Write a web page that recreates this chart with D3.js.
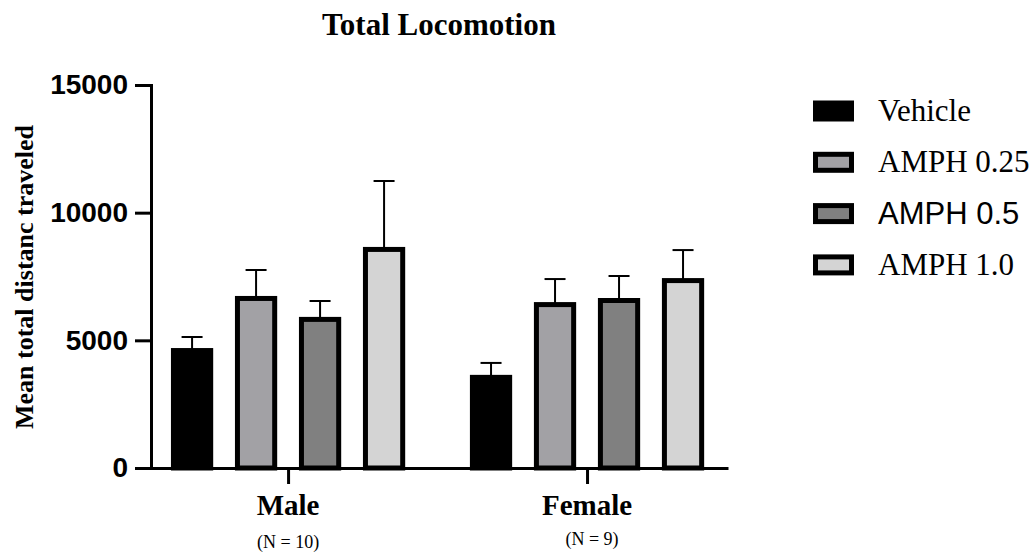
<!DOCTYPE html>
<html>
<head>
<meta charset="utf-8">
<script src="https://cdn.jsdelivr.net/npm/d3@7"></script>
<style>
  html, body { margin: 0; padding: 0; background: #fff; }
  svg { display: block; }
</style>
</head>
<body>
<svg id="chart" width="1034" height="555"></svg>
<script>
// Groups (sex) and treatment series
const groups = ["Male", "Female"];
const groupN = ["(N = 10)", "(N = 9)"];
const series = ["Vehicle", "AMPH 0.25", "AMPH 0.5", "AMPH 1.0"];
const seriesColors = ["#000000", "#a2a1a5", "#808080", "#d4d4d4"];
const seriesFonts = ["Liberation Serif", "Liberation Serif", "Liberation Sans", "Liberation Serif"];

// Mean total distance per group, one value per series
const maleMeans = [4600, 6640, 5820, 8560];
const femaleMeans = [3550, 6400, 6560, 7340];
// Upper error (SEM) per group, one value per series
const maleErr = [530, 1115, 720, 2680];
const femaleErr = [565, 1000, 960, 1195];

const yTicks = [0, 5000, 10000, 15000];

const means = [maleMeans, femaleMeans];
const errs = [maleErr, femaleErr];

const svg = d3.select("#chart");

const y = d3.scaleLinear().domain([0, 15000]).range([468, 85]);
const x0 = d3.scalePoint().domain(groups).range([151, 728]).padding(0.465).align(0.493);
const x1 = d3.scaleBand().domain(series).range([-128, 128]).paddingInner(0.34).paddingOuter(0.17);

const barStroke = 5;

// Title
svg.append("text")
  .attr("x", 439).attr("y", 35)
  .attr("text-anchor", "middle")
  .style("font-family", "Liberation Serif")
  .style("font-weight", "bold")
  .style("font-size", "31px")
  .text("Total Locomotion");

// Y axis title
svg.append("text")
  .attr("transform", "translate(33,277) rotate(-90)")
  .attr("text-anchor", "middle")
  .style("font-family", "Liberation Serif")
  .style("font-weight", "bold")
  .style("font-size", "26px")
  .text("Mean total distanc traveled");

// Bars
const gBars = svg.append("g");
groups.forEach((g, gi) => {
  series.forEach((s, si) => {
    const cx = x0(g) + x1(s) + x1.bandwidth() / 2;
    const v = means[gi][si];
    const e = errs[gi][si];
    const bw = x1.bandwidth() - barStroke;
    // error bar (upper only)
    gBars.append("line")
      .attr("x1", cx).attr("x2", cx)
      .attr("y1", y(v)).attr("y2", y(v + e))
      .attr("stroke", "#000").attr("stroke-width", 2);
    gBars.append("line")
      .attr("x1", cx - 10.5).attr("x2", cx + 10.5)
      .attr("y1", y(v + e)).attr("y2", y(v + e))
      .attr("stroke", "#000").attr("stroke-width", 2);
    gBars.append("rect")
      .attr("x", cx - bw / 2)
      .attr("y", y(v))
      .attr("width", bw)
      .attr("height", y(0) - y(v))
      .attr("fill", seriesColors[si])
      .attr("stroke", "#000")
      .attr("stroke-width", barStroke);
  });
});

// Y axis
const yAxis = svg.append("g")
  .attr("transform", "translate(151,0)")
  .call(d3.axisLeft(y).tickValues(yTicks).tickFormat(d3.format("d")).tickSize(16).tickSizeOuter(0).tickPadding(7));
yAxis.select(".domain").attr("stroke-width", 3).attr("stroke-linecap", "square");
yAxis.selectAll(".tick line").attr("stroke-width", 3);
yAxis.selectAll(".tick text")
  .style("font-family", "Liberation Sans")
  .style("font-weight", "bold")
  .style("font-size", "28px")
  .attr("fill", "#000");

// X axis
const xAxis = svg.append("g")
  .attr("transform", "translate(0,468)")
  .call(d3.axisBottom(x0).tickSize(16).tickSizeOuter(0).tickFormat(""));
xAxis.select(".domain").attr("stroke-width", 3);
xAxis.selectAll(".tick line").attr("stroke-width", 3);

// Group labels
groups.forEach((g, gi) => {
  svg.append("text")
    .attr("x", x0(g)).attr("y", 515)
    .attr("text-anchor", "middle")
    .style("font-family", "Liberation Serif")
    .style("font-weight", "bold")
    .style("font-size", "29px")
    .text(g);
  svg.append("text")
    .attr("x", x0(g) + (gi === 1 ? 5 : 0)).attr("y", gi === 1 ? 545 : 548)
    .attr("text-anchor", "middle")
    .style("font-family", "Liberation Serif")
    .style("font-size", "18px")
    .text(groupN[gi]);
});

// Legend
const legend = svg.append("g").attr("transform", "translate(813,111)");
series.forEach((s, si) => {
  const row = legend.append("g").attr("transform", `translate(0,${si * 51.3})`);
  row.append("rect")
    .attr("x", 2.5).attr("y", -8)
    .attr("width", 36).attr("height", 16)
    .attr("fill", seriesColors[si])
    .attr("stroke", "#000")
    .attr("stroke-width", barStroke);
  row.append("text")
    .attr("x", 65).attr("y", 10)
    .style("font-family", seriesFonts[si])
    .style("font-size", "31px")
    .text(s);
});
</script>
</body>
</html>
